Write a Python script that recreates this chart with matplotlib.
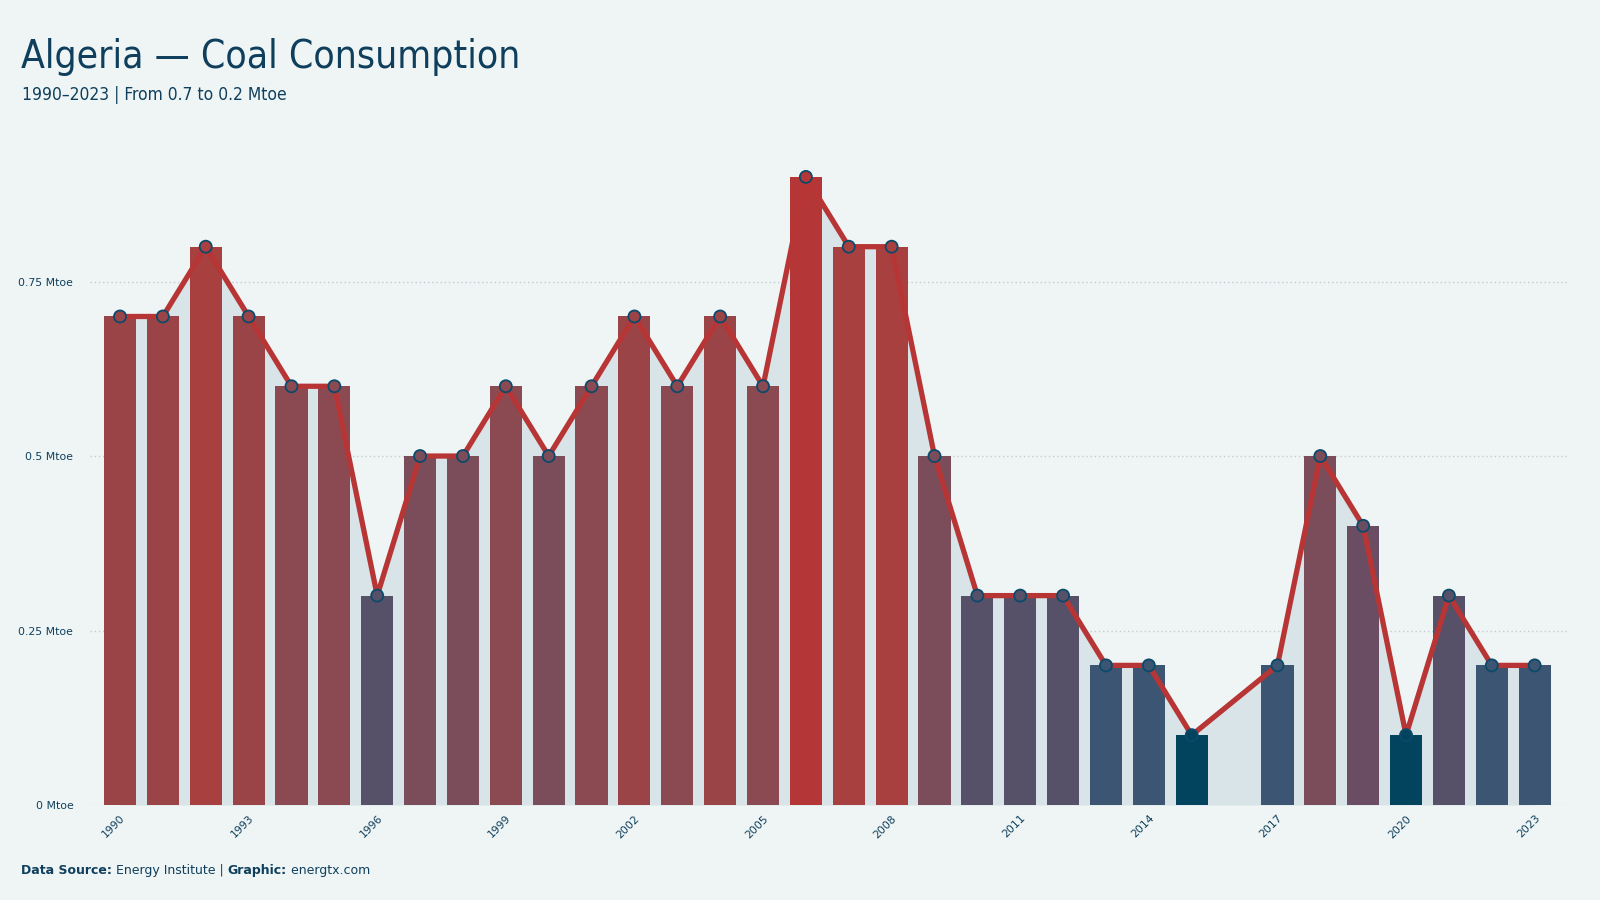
import numpy as np
import matplotlib
matplotlib.use("Agg")
import matplotlib.pyplot as plt
from matplotlib.colors import LinearSegmentedColormap

# Data (Mtoe), 2016 has no value
years = list(range(1990, 2024))
values = [0.7, 0.7, 0.8, 0.7, 0.6, 0.6, 0.3, 0.5, 0.5, 0.6,
          0.5, 0.6, 0.7, 0.6, 0.7, 0.6, 0.9, 0.8, 0.8, 0.5,
          0.3, 0.3, 0.3, 0.2, 0.2, 0.1, np.nan, 0.2, 0.5, 0.4,
          0.1, 0.3, 0.2, 0.2]
y_ticks = [0, 0.25, 0.5, 0.75]
y_labels = ["0 Mtoe", "0.25 Mtoe", "0.5 Mtoe", "0.75 Mtoe"]

bg = "#eff5f5"
navy = "#0f3f5c"
red = "#b83535"

cmap = LinearSegmentedColormap.from_list("coal", [
    (0.0, "#02435e"), (0.125, "#3c5572"), (0.25, "#575068"),
    (0.375, "#6a4d62"), (0.5, "#7b4d5a"), (0.625, "#8b4a52"),
    (0.75, "#9b4448"), (0.875, "#a84040"), (1.0, "#b53636")])

vals = np.array(values, dtype=float)
x = np.arange(len(years))
ok = ~np.isnan(vals)
vmin, vmax = np.nanmin(vals), np.nanmax(vals)
colors = [cmap((v - vmin) / (vmax - vmin)) for v in vals[ok]]

fig = plt.figure(figsize=(16, 9), dpi=100, facecolor=bg)
ax = fig.add_axes([0.05625, 0.1056, 0.923, 0.7366])
ax.set_facecolor(bg)

# area under the line
ax.fill_between(x[ok], vals[ok], 0, color="#d8e4e8", lw=0, zorder=1)

# grid
for t in y_ticks:
    ax.axhline(t, color="#c3ccd0", lw=1, ls=(0, (1, 2)), zorder=0.5)

ax.bar(x[ok], vals[ok], width=0.75, color=colors, zorder=2)
ax.plot(x[ok], vals[ok], color=red, lw=3.8, zorder=3, solid_joinstyle="round")
ax.scatter(x[ok], vals[ok], s=75, c=colors,
           edgecolors="#0b4a6a", linewidths=1.3, zorder=4)

ax.set_xlim(-0.7, len(years) - 1 + 0.75)
ax.set_ylim(0, 0.95)
for s in ax.spines.values():
    s.set_visible(False)

ax.set_yticks(y_ticks)
ax.set_yticklabels(y_labels, fontsize=7.8, color=navy)
ax.tick_params(axis="y", length=0, pad=12)

tick_idx = list(range(0, len(years), 3))
ax.set_xticks(tick_idx)
ax.set_xticklabels([str(years[i]) for i in tick_idx], rotation=45, ha="right",
                   rotation_mode="anchor", fontsize=7.8, color=navy)
ax.tick_params(axis="x", length=0, pad=6)

fig.text(0.013, 0.925, "Algeria \u2014 Coal Consumption", fontsize=28,
         color=navy, fontstretch="condensed")
fig.text(0.014, 0.889, "1990\u20132023 | From 0.7 to 0.2 Mtoe", fontsize=12.5,
         color=navy, fontstretch="condensed")

cap = fig.text(0.013, 0.029, "Data Source:", fontsize=9, color=navy, weight="bold")
fig.canvas.draw()
r = fig.canvas.get_renderer()
xpos = cap.get_window_extent(r).x1 / fig.bbox.width
parts = [(" Energy Institute | ", "normal"), ("Graphic:", "bold"), (" energtx.com", "normal")]
for txt, w in parts:
    t = fig.text(xpos, 0.029, txt, fontsize=9, color=navy, weight=w)
    xpos = t.get_window_extent(r).x1 / fig.bbox.width

fig.savefig("out.png", dpi=100, facecolor=bg)
